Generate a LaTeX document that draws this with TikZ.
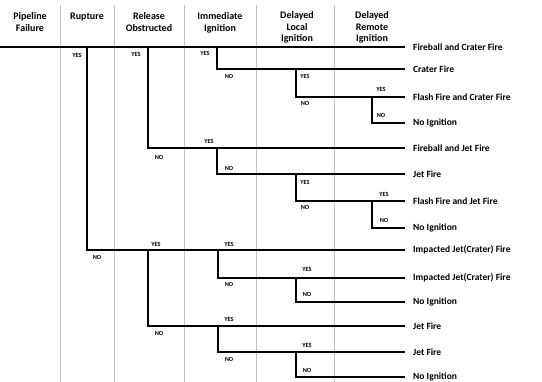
\documentclass[tikz,border=0pt]{standalone}
\usepackage{fontspec}
\setmainfont{Carlito}
\usetikzlibrary{calc}

\begin{document}
\begin{tikzpicture}[x=1pt,y=-1pt,
  branch/.style={line width=1.3pt},
  divider/.style={black!25, line width=0.6pt},
  head/.style={font=\bfseries\fontsize{10}{11.5}\selectfont, align=center, anchor=north, inner sep=0pt},
  outcome/.style={font=\bfseries\fontsize{9.5}{10}\selectfont, anchor=west, inner xsep=8pt, inner ysep=0pt},
  yn/.style={font=\bfseries\fontsize{6.3}{7}\selectfont, inner sep=0pt}]
\useasboundingbox (0,0) rectangle (542,382);

% column dividers
\foreach \x in {60,114,184,256,334}
  \draw[divider] (\x,5) -- (\x,382);

% headers
\node[head] (pf) at (30,12.5) {Pipeline\\Failure};
\node[head] (ru) at (87,12.5) {Rupture};
\node[head] (ro) at (149,12.5) {Release\\Obstructed};
\node[head] (ii) at (220,12.5) {Immediate\\Ignition};
\node[head] (dl) at (297,11.5) {Delayed\\Local\\Ignition};
\node[head] (dr) at (372,11.5) {Delayed\\Remote\\Ignition};

% outcomes
\node[outcome] (o1) at (405,47) {Fireball and Crater Fire};
\node[outcome] (o2) at (405,69) {Crater Fire};
\node[outcome] (o3) at (405,97) {Flash Fire and Crater Fire};
\node[outcome] (o4) at (405,123) {No Ignition};
\node[outcome] (o5) at (405,148) {Fireball and Jet Fire};
\node[outcome] (o6) at (405,174) {Jet Fire};
\node[outcome] (o7) at (405,201) {Flash Fire and Jet Fire};
\node[outcome] (o8) at (405,228) {No Ignition};
\node[outcome] (o9) at (405,250) {Impacted Jet(Crater) Fire};
\node[outcome] (o10) at (405,278) {Impacted Jet(Crater) Fire};
\node[outcome] (o11) at (405,302) {No Ignition};
\node[outcome] (o12) at (405,326) {Jet Fire};
\node[outcome] (o13) at (405,352) {Jet Fire};
\node[outcome] (o14) at (405,377) {No Ignition};

% tree
\coordinate (start) at (0,47);
\draw[branch] (start) -- (o1.west);
\draw[branch] (87,0 |- o1.west) |- (o9.west);
\draw[branch] (148,0 |- o1.west) |- (o5.west);
\draw[branch] (217,0 |- o1.west) |- (o2.west);
\draw[branch] (296,0 |- o2.west) |- (o3.west);
\draw[branch] (372,0 |- o3.west) |- (o4.west);
\draw[branch] (217,0 |- o5.west) |- (o6.west);
\draw[branch] (296,0 |- o6.west) |- (o7.west);
\draw[branch] (372,0 |- o7.west) |- (o8.west);
\draw[branch] (148,0 |- o9.west) |- (o12.west);
\draw[branch] (218,0 |- o9.west) |- (o10.west);
\draw[branch] (296,0 |- o10.west) |- (o11.west);
\draw[branch] (218,0 |- o12.west) |- (o13.west);
\draw[branch] (296,0 |- o13.west) |- (o14.west);

% yes / no
\node[yn] (y1) at (77,55) {YES};
\node[yn] (y2) at (136,54) {YES};
\node[yn] (y3) at (205,53) {YES};
\node[yn] (n3) at (229,76) {NO};
\node[yn] (y4) at (305,76) {YES};
\node[yn] (n4) at (305,103) {NO};
\node[yn] (y5) at (381,89) {YES};
\node[yn] (n5) at (381,115) {NO};

\node[yn] (n2) at (159,157) {NO};
\node[yn] (y6) at (209,141) {YES};
\node[yn] (n6) at (229,168) {NO};
\node[yn] (y7) at (305,182) {YES};
\node[yn] (n7) at (305,207) {NO};
\node[yn] (y8) at (384,194) {YES};
\node[yn] (n8) at (384,220) {NO};

\node[yn] (n1) at (97,257) {NO};
\node[yn] (y9) at (156,244) {YES};
\node[yn] (y10) at (229,244) {YES};
\node[yn] (n10) at (229,284) {NO};
\node[yn] (y11) at (307,269) {YES};
\node[yn] (n11) at (307,294) {NO};
\node[yn] (n9) at (159,333) {NO};
\node[yn] (y12) at (229,319) {YES};
\node[yn] (n12) at (229,359) {NO};
\node[yn] (y13) at (307,345) {YES};
\node[yn] (n13) at (307,370) {NO};
\end{tikzpicture}
\end{document}
